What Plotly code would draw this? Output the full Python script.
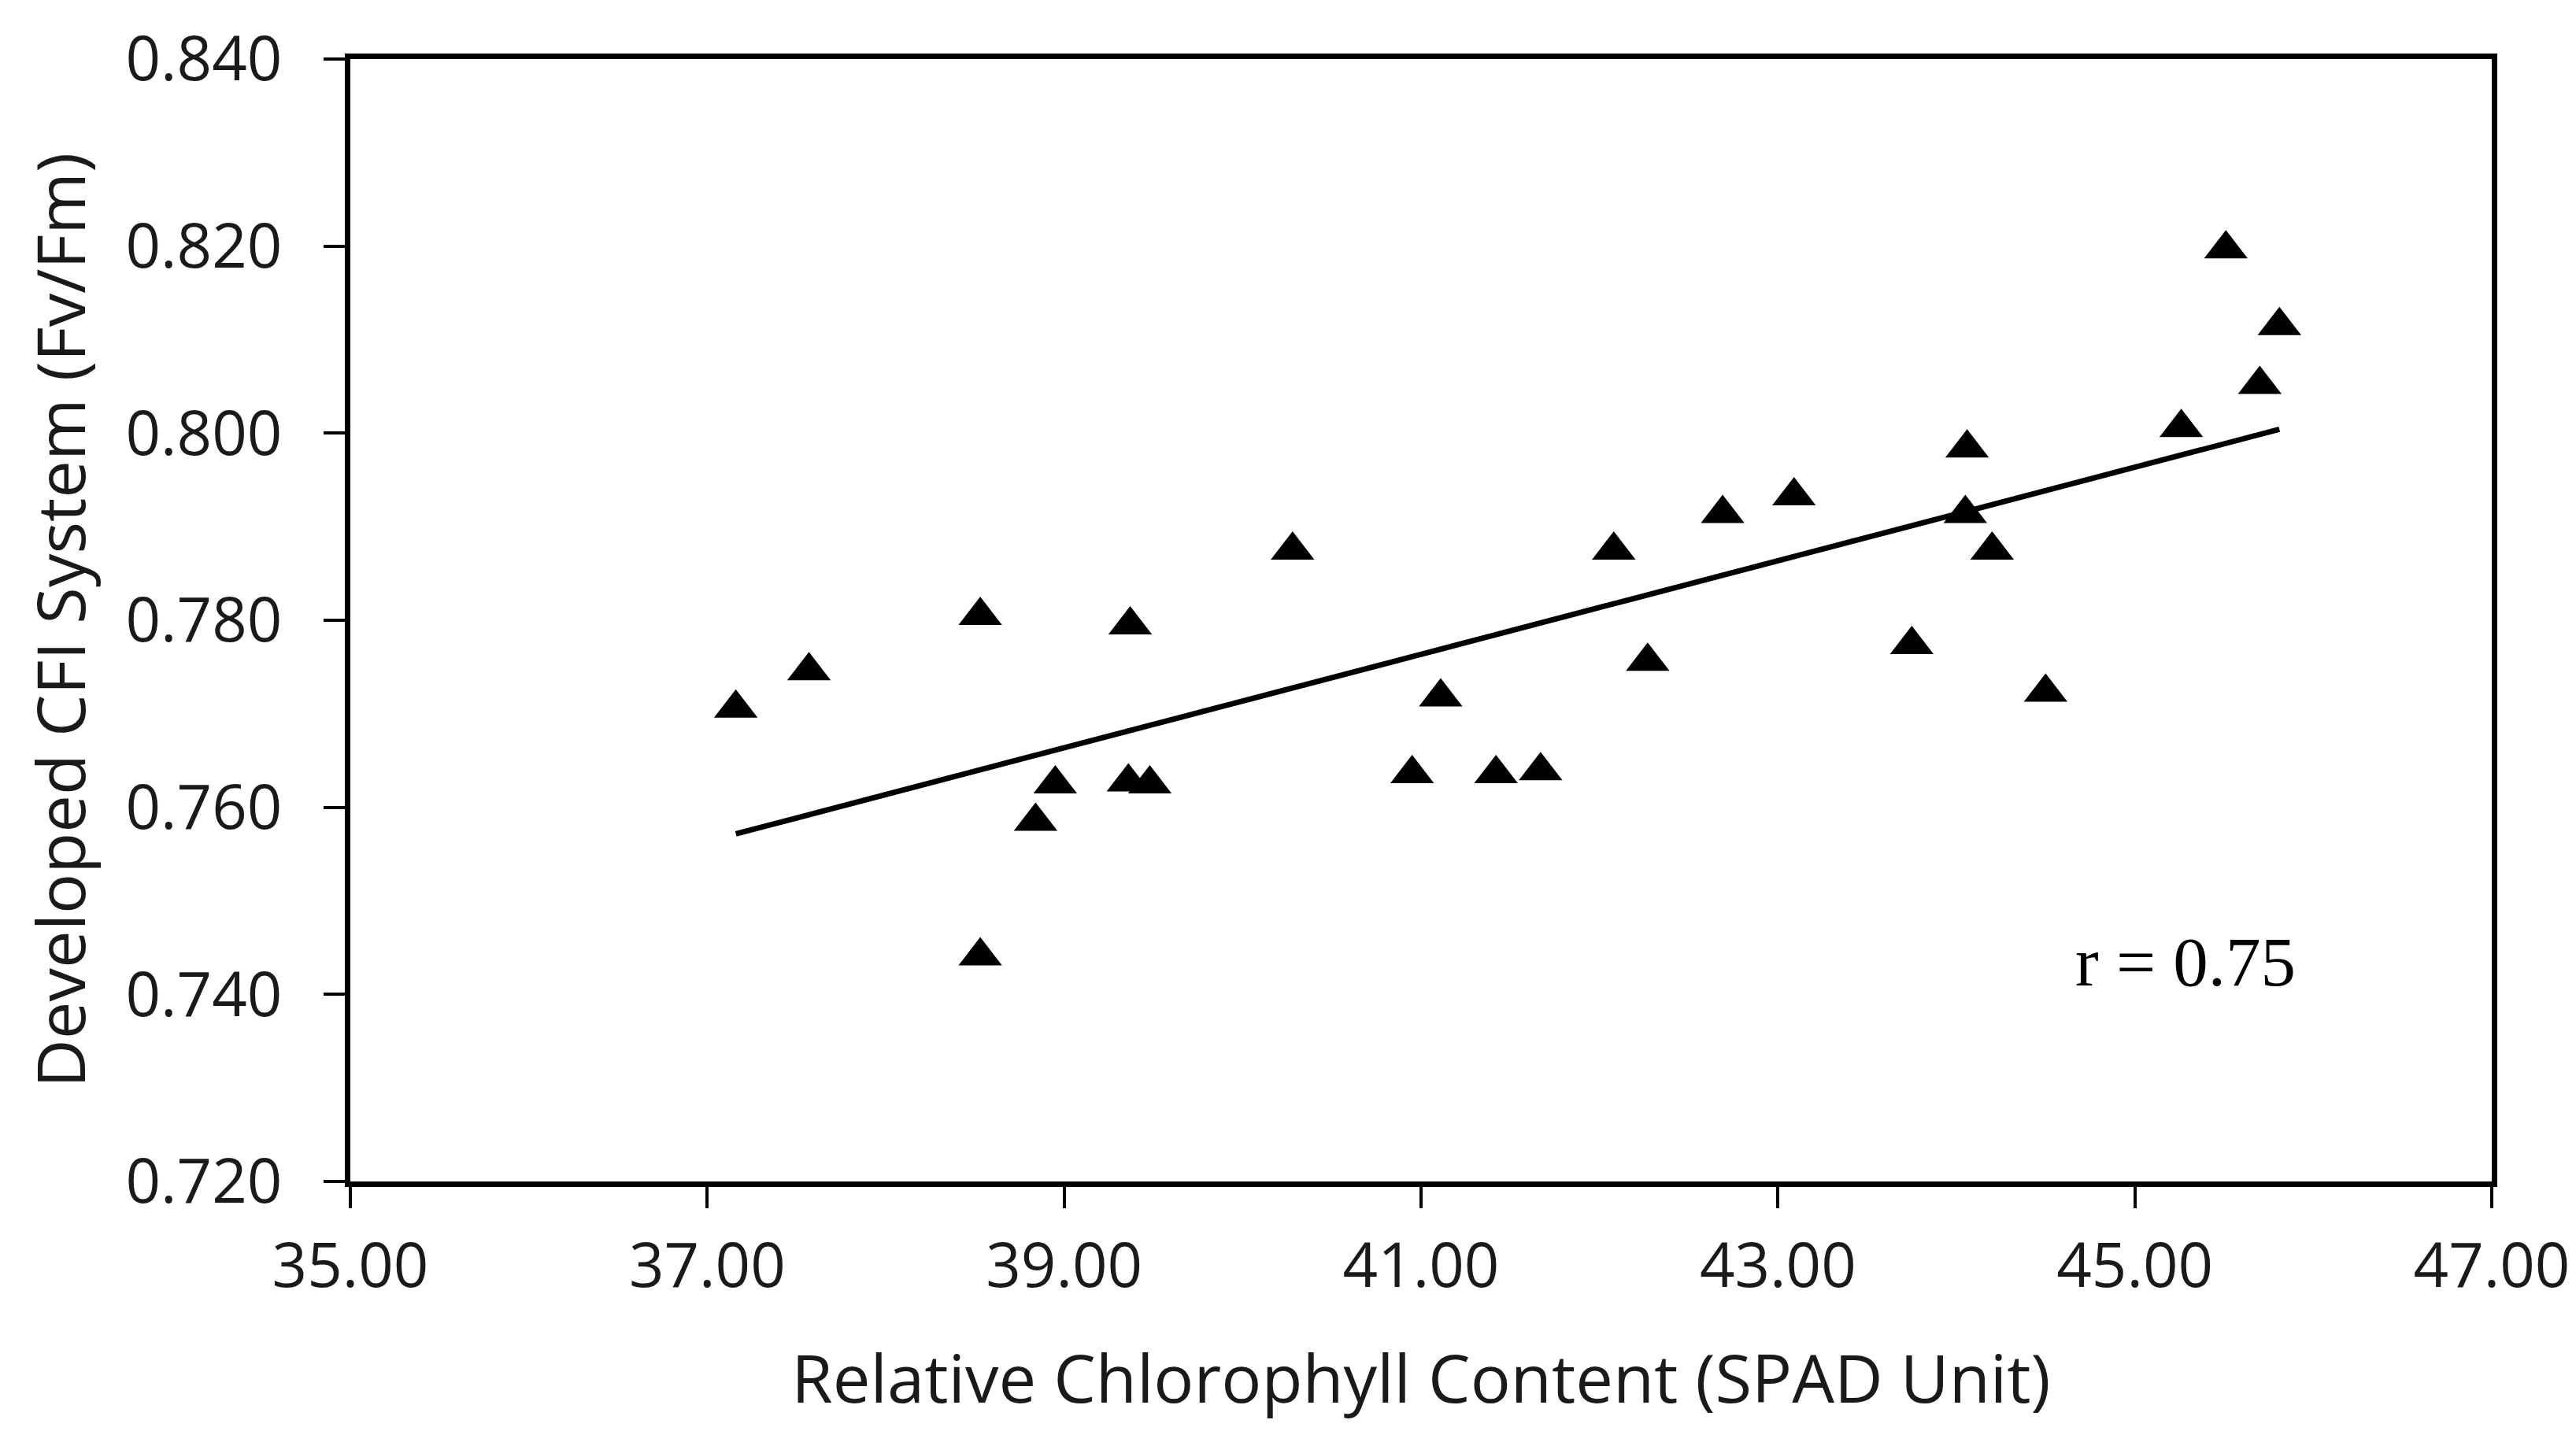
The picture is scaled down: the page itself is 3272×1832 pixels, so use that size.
import numpy as np
import plotly.graph_objects as go

# Data
spad = [37.16, 37.57, 38.53, 38.53, 38.84, 38.95, 39.37, 39.36, 39.48, 40.28,
        40.95, 41.11, 41.42, 41.67, 42.08, 42.27, 42.69, 43.09, 43.75, 44.06,
        44.05, 44.20, 44.50, 45.26, 45.51, 45.70, 45.81]
fvfm = [0.7706, 0.7746, 0.7805, 0.7441, 0.7585, 0.7625, 0.7795, 0.7627, 0.7625, 0.7875,
        0.7636, 0.7718, 0.7636, 0.7639, 0.7875, 0.7756, 0.7914, 0.7933, 0.7774, 0.7984,
        0.7914, 0.7875, 0.7723, 0.8006, 0.8197, 0.8052, 0.8115]
x_ticks = [35, 37, 39, 41, 43, 45, 47]
y_ticks = [0.72, 0.74, 0.76, 0.78, 0.80, 0.82, 0.84]
r_label = "r = 0.75"

# Linear trend line fitted from the data
slope, intercept = np.polyfit(spad, fvfm, 1)
trend_x = [min(spad), max(spad)]
trend_y = [slope * v + intercept for v in trend_x]

fig = go.Figure()
fig.add_trace(go.Scatter(x=trend_x, y=trend_y, mode="lines",
                         line=dict(color="black", width=7), showlegend=False))
fig.add_trace(go.Scatter(x=spad, y=fvfm, mode="markers",
                         marker=dict(symbol="triangle-up", size=48, color="black"),
                         showlegend=False))

font_fam = "Open Sans"
txt_col = "#1a1a1a"

fig.add_annotation(x=0.857, y=0.196, xref="paper", yref="paper", text=r_label,
                   showarrow=False, xanchor="center", yanchor="middle",
                   font=dict(family="Liberation Serif", size=89, color="black"))

fig.update_layout(
    width=3272, height=1832,
    margin=dict(l=437, r=115, t=67, b=339, autoexpand=False),
    paper_bgcolor="white", plot_bgcolor="white",
    font=dict(family=font_fam, size=78, color=txt_col),
    xaxis=dict(range=[35, 47], tickvals=x_ticks,
               ticktext=[f"{v:.2f}" for v in x_ticks],
               showgrid=False, zeroline=False,
               showline=True, linecolor="black", linewidth=7, mirror=True,
               ticks="outside", ticklen=27, tickwidth=4, tickcolor="black",
               ticklabelstandoff=6,
               tickfont=dict(family=font_fam, size=78, color=txt_col),
               title=dict(text="Relative Chlorophyll Content (SPAD Unit)",
                          font=dict(family=font_fam, size=85, color=txt_col),
                          standoff=68)),
    yaxis=dict(range=[0.72, 0.84], tickvals=y_ticks,
               ticktext=[f"{v:.3f}" for v in y_ticks],
               showgrid=False, zeroline=False,
               showline=True, linecolor="black", linewidth=7, mirror=True,
               ticks="outside", ticklen=27, tickwidth=4, tickcolor="black",
               ticklabelstandoff=37,
               tickfont=dict(family=font_fam, size=78, color=txt_col),
               title=dict(text="Developed CFI System (Fv/Fm)",
                          font=dict(family=font_fam, size=85, color=txt_col),
                          standoff=25)),
)

fig.write_html("out.html")
